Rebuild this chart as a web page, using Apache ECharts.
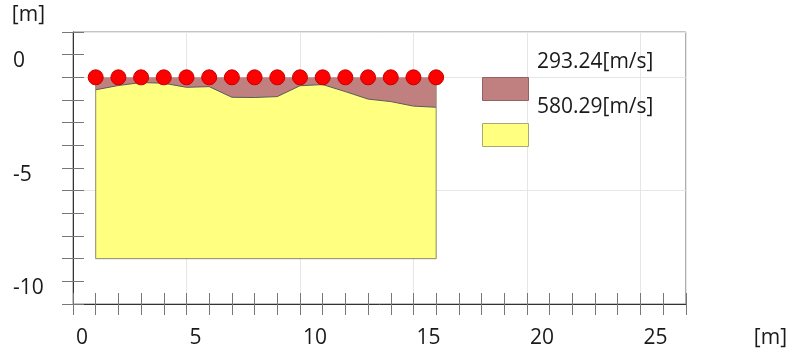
<!DOCTYPE html>
<html><head><meta charset="utf-8">
<script src="https://cdn.jsdelivr.net/npm/echarts@6/dist/echarts.min.js"></script>
<style>html,body{margin:0;padding:0;background:#fff}#c{width:790px;height:351px}</style>
</head><body><div id="c"></div>
<script>
// Geophone positions [m] and their elevations [m]
const geophoneX = [1, 2, 3, 4, 5, 6, 7, 8, 9, 10, 11, 12, 13, 14, 15, 16];
const geophoneElev = [0, 0, 0, 0, 0, 0, 0, 0, 0, 0, 0, 0, 0, 0, 0, 0];
// Bottom of layer 1 (boundary between the two velocity layers) [m]
const layer1Bottom = [-0.55, -0.36, -0.23, -0.26, -0.44, -0.41, -0.88, -0.89, -0.85, -0.37, -0.32, -0.63, -0.96, -1.07, -1.27, -1.32];
// Bottom of the model section [m]
const modelBottom = -8;
// Layer velocities (legend)
const velocities = ['293.24[m/s]', '580.29[m/s]'];
// Tick labels
const xTickLabels = [0, 5, 10, 15, 20, 25];
const yTickLabels = [0, -5, -10];

const FONT = "'Open Sans', sans-serif";
const TXT = '#1a1a1a';
const BROWN = '#C08080';
const YELLOW = '#FFFF80';

const surfaceLine = geophoneX.map((x, i) => [x, geophoneElev[i]]);
const boundaryLine = geophoneX.map((x, i) => [x, layer1Bottom[i]]);
const last = geophoneX.length - 1;
const outline = [
  [geophoneX[0], geophoneElev[0]], [geophoneX[0], modelBottom],
  [geophoneX[last], modelBottom], [geophoneX[last], geophoneElev[last]]
];

function tickAxisX(inside) {
  return { gridIndex: 0, type: 'value', position: 'bottom', min: 0, max: 27, interval: 1,
    axisLine: { show: false, onZero: false }, axisLabel: { show: false }, splitLine: { show: false },
    axisTick: { show: true, inside: inside, length: 11, lineStyle: { color: '#777', width: 1 } } };
}
function tickAxisY(inside) {
  return { gridIndex: 0, type: 'value', position: 'left', min: -10, max: 2, interval: 1,
    axisLine: { show: false, onZero: false }, axisLabel: { show: false }, splitLine: { show: false },
    axisTick: { show: true, inside: inside, length: 11, lineStyle: { color: '#777', width: 1 } } };
}

const chart = echarts.init(document.getElementById('c'), null, { renderer: 'canvas' });
chart.setOption({
  animation: false,
  backgroundColor: '#fff',
  textStyle: { fontFamily: FONT },
  grid: [{ left: 73, top: 32, width: 614, height: 272, show: true, borderColor: '#888', borderWidth: 1, containLabel: false }],
  xAxis: [
    { gridIndex: 0, type: 'value', position: 'bottom', min: 0, max: 27, interval: 5,
      name: '[m]', nameLocation: 'end', nameGap: 68,
      nameTextStyle: { fontFamily: FONT, fontSize: 21, color: TXT, align: 'left', verticalAlign: 'top', lineHeight: 22, padding: [23, 0, 0, 0] },
      axisLine: { show: true, onZero: false, lineStyle: { color: '#333', width: 1 } },
      axisTick: { show: false },
      splitLine: { show: true, lineStyle: { color: '#e6e6e6', width: 1 } },
      axisLabel: { show: true, showMaxLabel: false, fontFamily: FONT, fontSize: 21, color: TXT, align: 'left', verticalAlign: 'top', lineHeight: 22, margin: 23, padding: [0, 0, 0, 3],
        formatter: v => (xTickLabels.indexOf(v) >= 0 ? String(v) : '') } },
    tickAxisX(false),
    tickAxisX(true)
  ],
  yAxis: [
    { gridIndex: 0, type: 'value', position: 'left', min: -10, max: 2, interval: 5,
      name: '[m]', nameLocation: 'end', nameGap: 6,
      nameTextStyle: { fontFamily: FONT, fontSize: 21, color: TXT, align: 'right', verticalAlign: 'bottom', lineHeight: 22, padding: [0, 28, 0, 0] },
      axisLine: { show: true, onZero: false, lineStyle: { color: '#333', width: 1 } },
      axisTick: { show: false },
      splitLine: { show: true, lineStyle: { color: '#e6e6e6', width: 1 } },
      axisLabel: { show: true, showMaxLabel: false, fontFamily: FONT, fontSize: 21, color: TXT, align: 'left', verticalAlign: 'bottom', lineHeight: 22, margin: 60, padding: [0, 0, 5, 0],
        formatter: v => (yTickLabels.indexOf(v) >= 0 ? String(v) : '') } },
    tickAxisY(false),
    tickAxisY(true)
  ],
  legend: [
    { orient: 'vertical', left: 482, top: 77, padding: 0, itemWidth: 46, itemHeight: 23, itemGap: 22, icon: 'rect',
      selectedMode: false, formatter: () => '', textStyle: { fontSize: 10 },
      data: [
        { name: velocities[0], itemStyle: { color: BROWN, borderColor: '#946262', borderWidth: 1 } },
        { name: velocities[1], itemStyle: { color: YELLOW, borderColor: '#a8a870', borderWidth: 1 } }
      ] },
    { orient: 'vertical', left: 531, top: 50, padding: 0, itemWidth: 1, itemHeight: 1, itemGap: 21, icon: 'rect',
      selectedMode: false, itemStyle: { opacity: 0 },
      textStyle: { fontFamily: FONT, fontSize: 21, lineHeight: 24, color: TXT },
      data: velocities.slice() }
  ],
  series: [
    { name: velocities[0], type: 'line', xAxisIndex: 0, yAxisIndex: 0, data: surfaceLine,
      showSymbol: false, silent: true, z: 2,
      itemStyle: { color: BROWN }, lineStyle: { color: BROWN, width: 0 },
      areaStyle: { color: BROWN, opacity: 1, origin: modelBottom } },
    { name: velocities[1], type: 'line', xAxisIndex: 0, yAxisIndex: 0, data: boundaryLine,
      showSymbol: false, silent: true, z: 3,
      itemStyle: { color: YELLOW }, lineStyle: { color: '#5a5a5a', width: 1 },
      areaStyle: { color: YELLOW, opacity: 1, origin: modelBottom } },
    { name: 'outline', type: 'line', xAxisIndex: 0, yAxisIndex: 0, data: outline,
      showSymbol: false, silent: true, z: 4,
      lineStyle: { color: '#8f8f6a', width: 1 } },
    { name: 'geophones', type: 'scatter', xAxisIndex: 0, yAxisIndex: 0, data: surfaceLine,
      symbol: 'circle', symbolSize: 15, z: 5,
      itemStyle: { color: '#FF0000', borderColor: '#c40000', borderWidth: 1, opacity: 1 } }
  ]
});
</script>
</body></html>
